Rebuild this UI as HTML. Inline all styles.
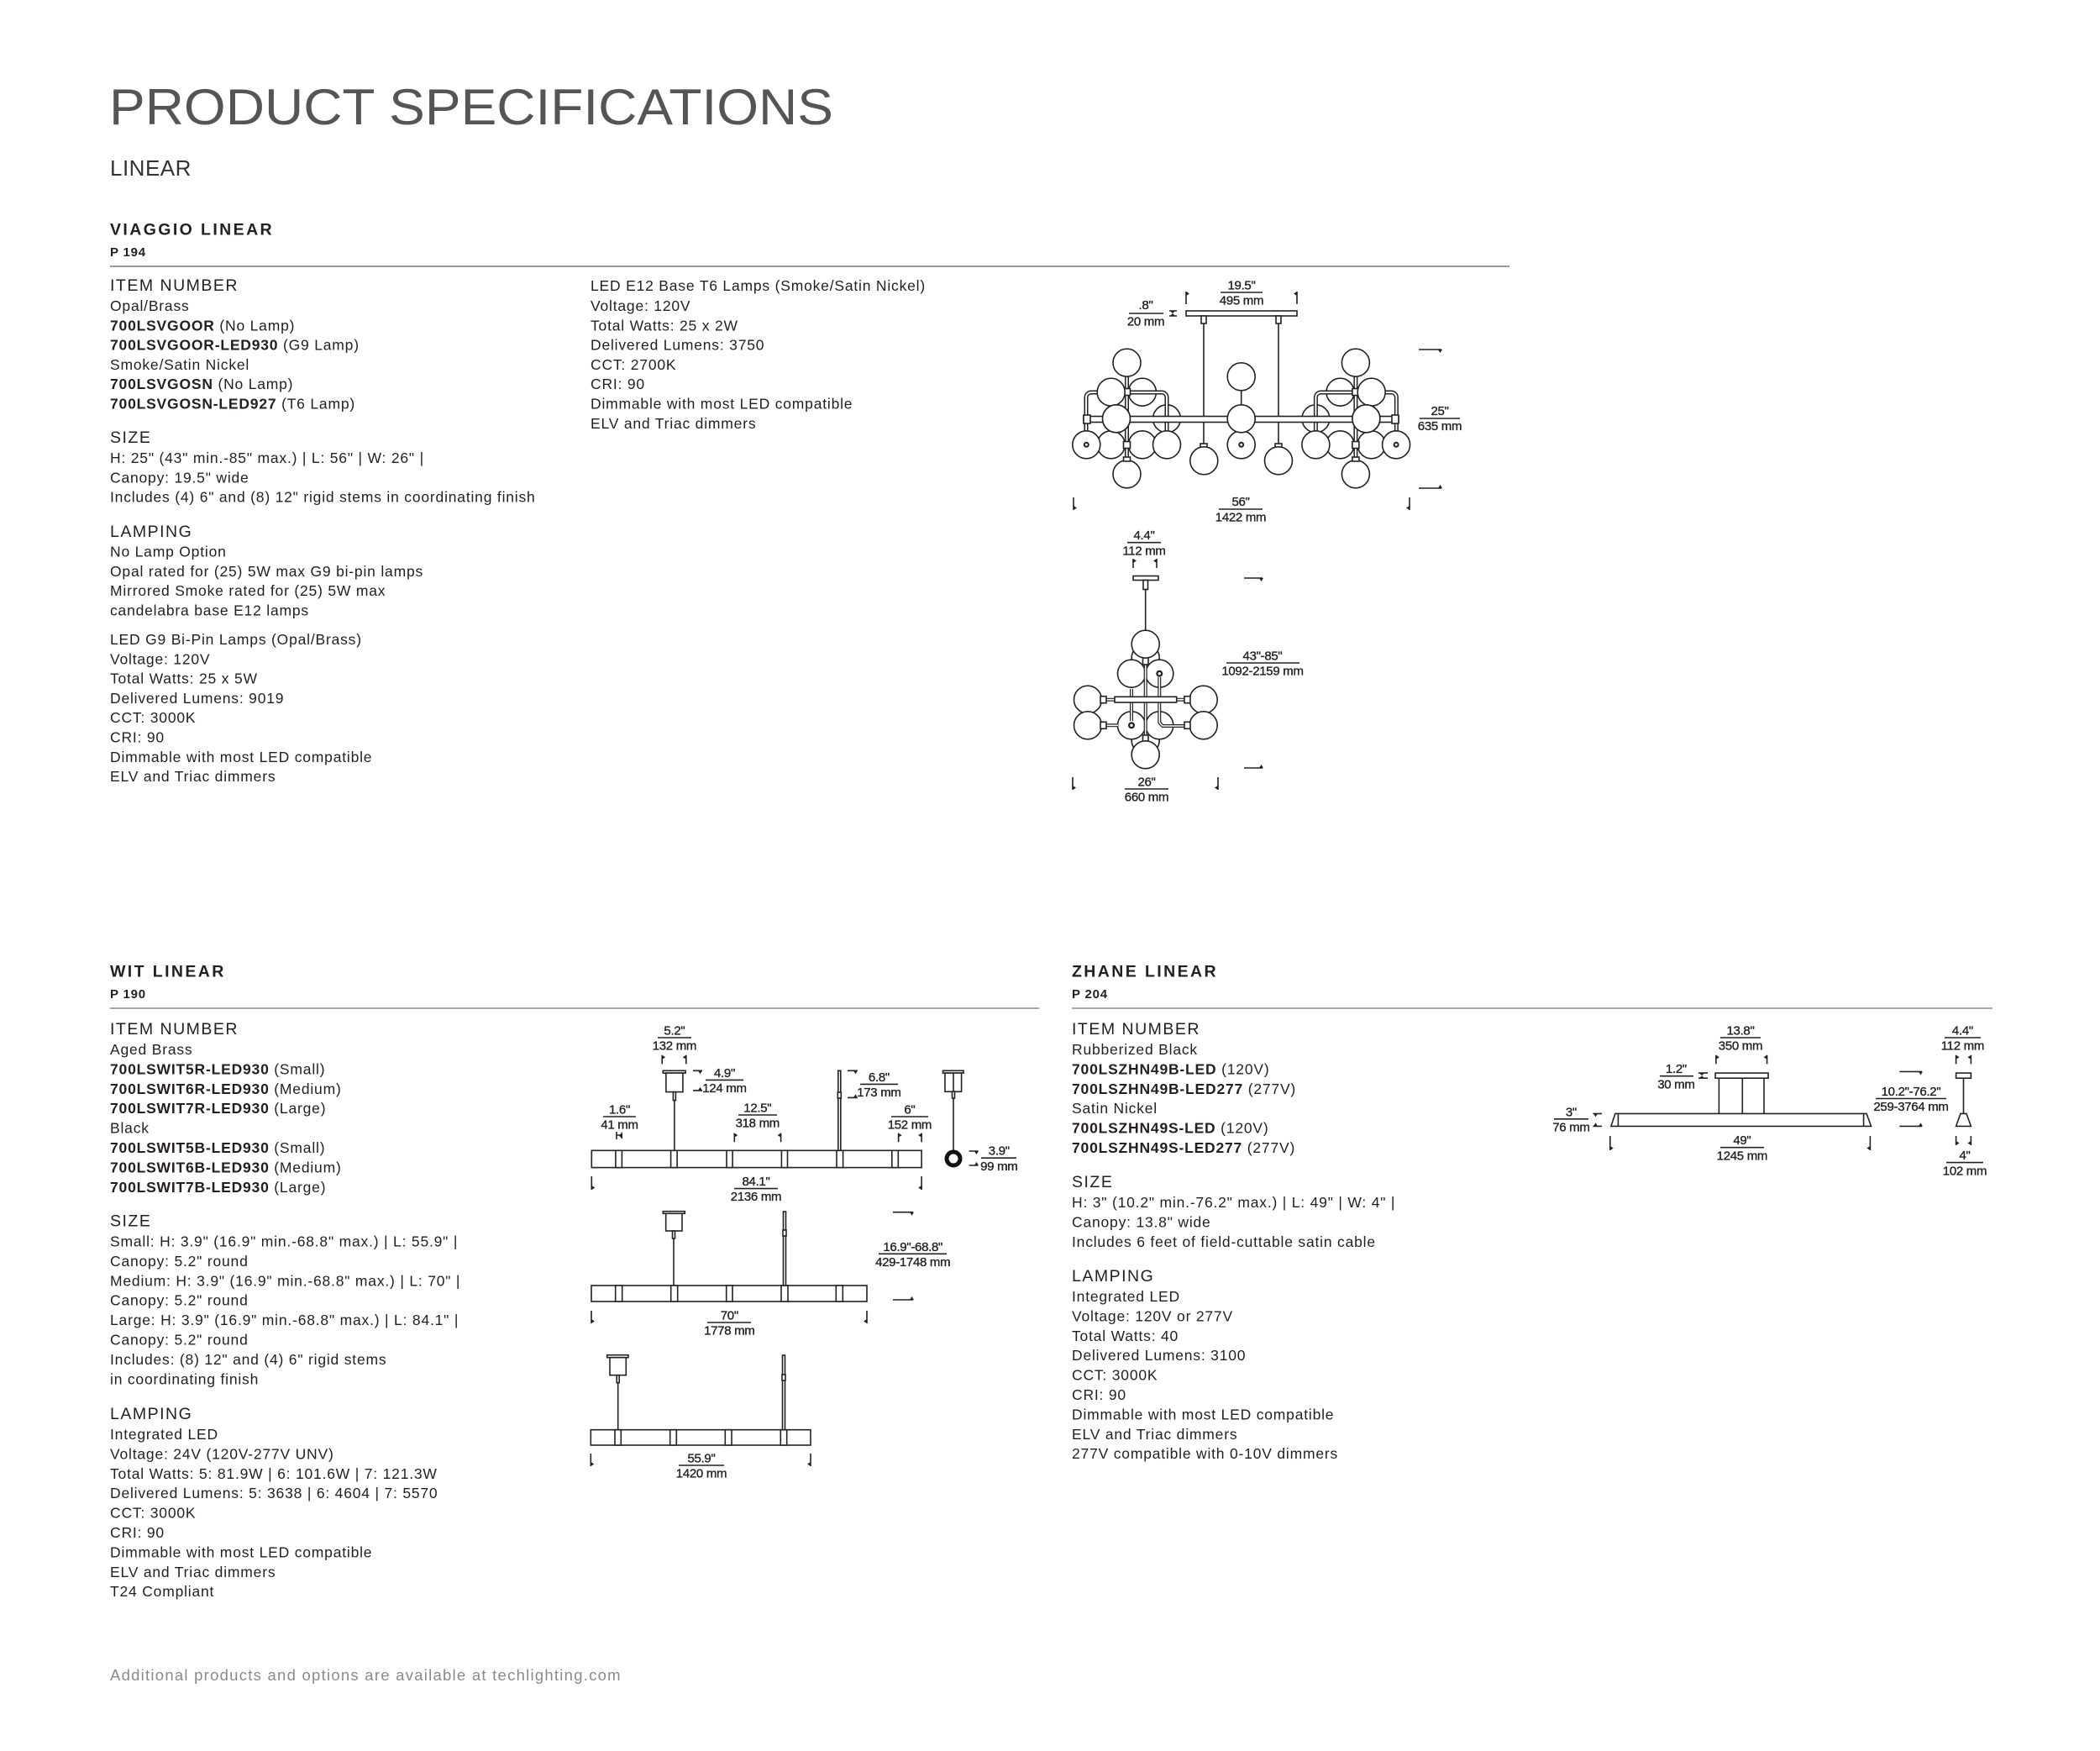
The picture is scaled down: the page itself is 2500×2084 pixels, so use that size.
<!DOCTYPE html>
<html><head><meta charset="utf-8"><style>
html,body{margin:0;padding:0;background:#fff}
svg{display:block}
.t{font-family:"Liberation Sans",sans-serif;fill:#231f20}
.b{font-size:17.5px;letter-spacing:0.8px}
.h{font-size:19.5px;letter-spacing:1.5px}
.hd{font-size:19.5px;font-weight:700;letter-spacing:2.4px}
.p{font-size:15px;font-weight:700;letter-spacing:0.8px}
.d{font-family:"Liberation Sans",sans-serif;font-size:15px;fill:#222;stroke:#222;stroke-width:0.35;text-anchor:middle;letter-spacing:-0.3px}
.s{stroke:#222;stroke-width:1.6;fill:none}
.w{stroke:#222;stroke-width:1.6;fill:#fff}
.f{fill:#222}
</style></head><body>
<svg width="2500" height="2084" viewBox="0 0 2500 2084" xmlns="http://www.w3.org/2000/svg">
<text class="t" x="130" y="148" font-size="60" textLength="862" lengthAdjust="spacingAndGlyphs" style="fill:#555">PRODUCT SPECIFICATIONS</text>
<text class="t" x="131" y="209" font-size="26" style="fill:#333;letter-spacing:0.5px">LINEAR</text>

<!-- VIAGGIO -->
<text class="t hd" x="131" y="279.5">VIAGGIO LINEAR</text>
<text class="t p" x="131" y="305">P 194</text>
<line x1="131" y1="317" x2="1797" y2="317" stroke="#777" stroke-width="1.6"/>
<g class="t b">
<text class="h" x="131" y="346">ITEM NUMBER</text>
<text x="131" y="370">Opal/Brass</text>
<text x="131" y="393.3"><tspan font-weight="700">700LSVGOOR</tspan> (No Lamp)</text>
<text x="131" y="416.6"><tspan font-weight="700">700LSVGOOR-LED930</tspan> (G9 Lamp)</text>
<text x="131" y="439.9">Smoke/Satin Nickel</text>
<text x="131" y="463.2"><tspan font-weight="700">700LSVGOSN</tspan> (No Lamp)</text>
<text x="131" y="486.5"><tspan font-weight="700">700LSVGOSN-LED927</tspan> (T6 Lamp)</text>
<text class="h" x="131" y="527">SIZE</text>
<text x="131" y="551">H: 25" (43" min.-85" max.) | L: 56" | W: 26" |</text>
<text x="131" y="574.3">Canopy: 19.5" wide</text>
<text x="131" y="597.6">Includes (4) 6" and (8) 12" rigid stems in coordinating finish</text>
<text class="h" x="131" y="639">LAMPING</text>
<text x="131" y="662.5">No Lamp Option</text>
<text x="131" y="685.8">Opal rated for (25) 5W max G9 bi-pin lamps</text>
<text x="131" y="709.1">Mirrored Smoke rated for (25) 5W max</text>
<text x="131" y="732.4">candelabra base E12 lamps</text>
<text x="131" y="767">LED G9 Bi-Pin Lamps (Opal/Brass)</text>
<text x="131" y="790.3">Voltage: 120V</text>
<text x="131" y="813.6">Total Watts: 25 x 5W</text>
<text x="131" y="836.9">Delivered Lumens: 9019</text>
<text x="131" y="860.2">CCT: 3000K</text>
<text x="131" y="883.5">CRI: 90</text>
<text x="131" y="906.8">Dimmable with most LED compatible</text>
<text x="131" y="930.1">ELV and Triac dimmers</text>
<text x="703" y="346">LED E12 Base T6 Lamps (Smoke/Satin Nickel)</text>
<text x="703" y="370">Voltage: 120V</text>
<text x="703" y="393.3">Total Watts: 25 x 2W</text>
<text x="703" y="416.6">Delivered Lumens: 3750</text>
<text x="703" y="439.9">CCT: 2700K</text>
<text x="703" y="463.2">CRI: 90</text>
<text x="703" y="486.5">Dimmable with most LED compatible</text>
<text x="703" y="509.8">ELV and Triac dimmers</text>
</g>

<!-- WIT -->
<text class="t hd" x="131" y="1162.5">WIT LINEAR</text>
<text class="t p" x="131" y="1188">P 190</text>
<line x1="131" y1="1200" x2="1237" y2="1200" stroke="#888" stroke-width="1.6"/>
<g class="t b">
<text class="h" x="131" y="1231">ITEM NUMBER</text>
<text x="131" y="1255">Aged Brass</text>
<text x="131" y="1278.4"><tspan font-weight="700">700LSWIT5R-LED930</tspan> (Small)</text>
<text x="131" y="1301.8"><tspan font-weight="700">700LSWIT6R-LED930</tspan> (Medium)</text>
<text x="131" y="1325.2"><tspan font-weight="700">700LSWIT7R-LED930</tspan> (Large)</text>
<text x="131" y="1348.6">Black</text>
<text x="131" y="1372"><tspan font-weight="700">700LSWIT5B-LED930</tspan> (Small)</text>
<text x="131" y="1395.4"><tspan font-weight="700">700LSWIT6B-LED930</tspan> (Medium)</text>
<text x="131" y="1418.8"><tspan font-weight="700">700LSWIT7B-LED930</tspan> (Large)</text>
<text class="h" x="131" y="1459.5">SIZE</text>
<text x="131" y="1483.5">Small: H: 3.9" (16.9" min.-68.8" max.) | L: 55.9" |</text>
<text x="131" y="1506.9">Canopy: 5.2" round</text>
<text x="131" y="1530.3">Medium: H: 3.9" (16.9" min.-68.8" max.) | L: 70" |</text>
<text x="131" y="1553.7">Canopy: 5.2" round</text>
<text x="131" y="1577.1">Large: H: 3.9" (16.9" min.-68.8" max.) | L: 84.1" |</text>
<text x="131" y="1600.5">Canopy: 5.2" round</text>
<text x="131" y="1623.9">Includes: (8) 12" and (4) 6" rigid stems</text>
<text x="131" y="1647.3">in coordinating finish</text>
<text class="h" x="131" y="1689">LAMPING</text>
<text x="131" y="1713">Integrated LED</text>
<text x="131" y="1736.4">Voltage: 24V (120V-277V UNV)</text>
<text x="131" y="1759.8">Total Watts: 5: 81.9W | 6: 101.6W | 7: 121.3W</text>
<text x="131" y="1783.2">Delivered Lumens: 5: 3638 | 6: 4604 | 7: 5570</text>
<text x="131" y="1806.6">CCT: 3000K</text>
<text x="131" y="1830">CRI: 90</text>
<text x="131" y="1853.4">Dimmable with most LED compatible</text>
<text x="131" y="1876.8">ELV and Triac dimmers</text>
<text x="131" y="1900.2">T24 Compliant</text>
</g>

<!-- ZHANE -->
<text class="t hd" x="1276" y="1162.5">ZHANE LINEAR</text>
<text class="t p" x="1276" y="1188">P 204</text>
<line x1="1276" y1="1200" x2="2372" y2="1200" stroke="#888" stroke-width="1.6"/>
<g class="t b">
<text class="h" x="1276" y="1231">ITEM NUMBER</text>
<text x="1276" y="1255">Rubberized Black</text>
<text x="1276" y="1278.4"><tspan font-weight="700">700LSZHN49B-LED</tspan> (120V)</text>
<text x="1276" y="1301.8"><tspan font-weight="700">700LSZHN49B-LED277</tspan> (277V)</text>
<text x="1276" y="1325.2">Satin Nickel</text>
<text x="1276" y="1348.6"><tspan font-weight="700">700LSZHN49S-LED</tspan> (120V)</text>
<text x="1276" y="1372"><tspan font-weight="700">700LSZHN49S-LED277</tspan> (277V)</text>
<text class="h" x="1276" y="1413">SIZE</text>
<text x="1276" y="1437">H: 3" (10.2" min.-76.2" max.) | L: 49" | W: 4" |</text>
<text x="1276" y="1460.4">Canopy: 13.8" wide</text>
<text x="1276" y="1483.8">Includes 6 feet of field-cuttable satin cable</text>
<text class="h" x="1276" y="1525">LAMPING</text>
<text x="1276" y="1549">Integrated LED</text>
<text x="1276" y="1572.4">Voltage: 120V or 277V</text>
<text x="1276" y="1595.8">Total Watts: 40</text>
<text x="1276" y="1619.2">Delivered Lumens: 3100</text>
<text x="1276" y="1642.6">CCT: 3000K</text>
<text x="1276" y="1666">CRI: 90</text>
<text x="1276" y="1689.4">Dimmable with most LED compatible</text>
<text x="1276" y="1712.8">ELV and Triac dimmers</text>
<text x="1276" y="1736.2">277V compatible with 0-10V dimmers</text>
</g>

<text class="t" x="131" y="2000" font-size="18.5" style="fill:#8a8a8a;letter-spacing:1.25px">Additional products and options are available at techlighting.com</text>

<!-- ===== VIAGGIO FRONT ===== -->
<defs>
<g id="cl">
  <circle class="w" cx="1359.9" cy="466.7" r="16.5"/>
  <circle class="w" cx="1389" cy="498.3" r="16.5"/>
  <rect x="1293" y="467" width="96" height="63" rx="6" fill="none" stroke="#222" stroke-width="5"/>
  <rect x="1293" y="467" width="96" height="63" rx="6" fill="none" stroke="#fff" stroke-width="2"/>
  <circle class="w" cx="1322.7" cy="529.3" r="16.5"/>
  <circle class="w" cx="1359.9" cy="529.3" r="16.5"/>
  <circle class="w" cx="1293.3" cy="529.3" r="16.5"/>
  <circle class="f" cx="1293.3" cy="529.3" r="3.5"/><circle cx="1293.3" cy="529.3" r="1.5" fill="#fff"/>
  <circle class="w" cx="1389" cy="529.3" r="16.5"/>
  <line x1="1341.5" y1="447" x2="1341.5" y2="548" stroke="#222" stroke-width="5"/>
  <line x1="1341.5" y1="447" x2="1341.5" y2="548" stroke="#fff" stroke-width="2"/>
  <rect class="w" x="1337.5" y="462.5" width="8" height="8"/>
  <rect class="w" x="1337.5" y="525.5" width="8" height="8"/>
  <circle class="w" cx="1341.5" cy="431.7" r="16.5"/>
  <circle class="w" cx="1322.7" cy="466.7" r="16.5"/>
  <circle class="w" cx="1329" cy="498.3" r="16.5"/>
  <circle class="w" cx="1341.5" cy="564.3" r="16.5"/>
  <rect class="w" x="1337.5" y="544" width="8" height="5"/>
</g>
</defs>
<rect class="w" x="1412" y="370" width="132" height="6"/>
<rect class="w" x="1430" y="376" width="6" height="9"/>
<rect class="w" x="1519" y="376" width="6" height="9"/>
<line class="s" x1="1433" y1="385" x2="1433" y2="530"/>
<line class="s" x1="1522" y1="385" x2="1522" y2="530"/>
<use href="#cl"/>
<use href="#cl" transform="translate(2955.4,0) scale(-1,1)"/>
<rect class="w" x="1290" y="495.5" width="375" height="7"/>
<rect class="w" x="1290" y="494" width="8" height="10"/>
<rect class="w" x="1657" y="494" width="8" height="10"/>
<circle class="w" cx="1329" cy="498.3" r="16.5"/>
<circle class="w" cx="1626.4" cy="498.3" r="16.5"/>
<line class="s" x1="1477.7" y1="462" x2="1477.7" y2="484"/>
<circle class="w" cx="1477.7" cy="448.3" r="16.5"/>
<circle class="w" cx="1477.7" cy="529.3" r="16.5"/>
<circle class="f" cx="1477.7" cy="529.3" r="3.5"/><circle cx="1477.7" cy="529.3" r="1.5" fill="#fff"/>
<circle class="w" cx="1477.7" cy="498.3" r="16.5"/>
<rect class="w" x="1429" y="528" width="8" height="5"/>
<rect class="w" x="1518" y="528" width="8" height="5"/>
<circle class="w" cx="1433.3" cy="548.3" r="16.5"/>
<circle class="w" cx="1522" cy="548.3" r="16.5"/>
<text class="d" x="1478" y="344.5">19.5"</text><line class="s" x1="1453" y1="348" x2="1503" y2="348" stroke-width="1"/><text class="d" x="1478" y="362.5">495 mm</text>
<path class="s" d="M1412 347V362M1544 347V362" stroke-width="1"/>
<path class="f" d="M1412 347l4 2.5l-4 2.5zM1544 347l-4 2.5l4 2.5z"/>
<text class="d" x="1364" y="368">.8"</text><line class="s" x1="1344" y1="373" x2="1385" y2="373" stroke-width="1"/><text class="d" x="1364" y="387.5">20 mm</text>
<path class="s" d="M1392 370H1401M1392 376H1401" stroke-width="1"/><path class="f" d="M1393 370l3 3l3-3zM1393 376l3-3l3 3z"/>
<path class="s" d="M1689 416H1716M1689 581H1716" stroke-width="1"/>
<path class="f" d="M1712 416l2.5 4l2.5-4zM1712 581l2.5-4l2.5 4z"/>
<text class="d" x="1714" y="494">25"</text><line class="s" x1="1690" y1="498" x2="1738" y2="498" stroke-width="1"/><text class="d" x="1714" y="512">635 mm</text>
<text class="d" x="1477" y="602">56"</text><line class="s" x1="1451" y1="606" x2="1503" y2="606" stroke-width="1"/><text class="d" x="1477" y="620.5">1422 mm</text>
<path class="s" d="M1278 592V607M1678 592V607" stroke-width="1"/>
<path class="f" d="M1278 602l4 2.5l-4 2.5zM1678 602l-4 2.5l4 2.5z"/>

<!-- ===== VIAGGIO SIDE ===== -->
<text class="d" x="1362" y="642">4.4"</text><line class="s" x1="1342" y1="645.7" x2="1382" y2="645.7" stroke-width="1"/><text class="d" x="1362" y="660.5">112 mm</text>
<path class="s" d="M1349 665V676M1377 665V676" stroke-width="1"/>
<path class="f" d="M1349 665l4 2.5l-4 2.5zM1377 665l-4 2.5l4 2.5z"/>
<rect class="w" x="1349" y="685.5" width="30" height="5"/>
<rect class="w" x="1361" y="690.5" width="5.5" height="11"/>
<line class="s" x1="1363.7" y1="701" x2="1363.7" y2="752"/>
<circle class="w" cx="1363.7" cy="783" r="16.5"/>
<circle class="w" cx="1363.7" cy="881" r="16.5"/>
<circle class="w" cx="1347" cy="801.7" r="16.5"/>
<circle class="w" cx="1380.3" cy="801.7" r="16.5"/>
<circle class="f" cx="1380.3" cy="801.7" r="4"/><circle cx="1380.3" cy="801.7" r="1.7" fill="#fff"/>
<circle class="w" cx="1295" cy="832.7" r="16.5"/>
<circle class="w" cx="1432.7" cy="832.7" r="16.5"/>
<circle class="w" cx="1295" cy="863.3" r="16.5"/>
<circle class="w" cx="1432.7" cy="863.3" r="16.5"/>
<circle class="w" cx="1347" cy="863.3" r="16.5"/>
<circle class="w" cx="1380.3" cy="863.3" r="16.5"/>
<circle class="f" cx="1347" cy="863.3" r="4"/><circle cx="1347" cy="863.3" r="1.7" fill="#fff"/>
<path d="M1363.7 770V882M1347 820V858M1380.3 806V860L1384 864H1416" fill="none" stroke="#222" stroke-width="4"/>
<path d="M1363.7 770V882M1347 820V858M1380.3 806V860L1384 864H1416" fill="none" stroke="#fff" stroke-width="1.6"/>
<path d="M1311 832.7H1416M1311 863.3H1331" fill="none" stroke="#222" stroke-width="4"/>
<path d="M1311 832.7H1416M1311 863.3H1331" fill="none" stroke="#fff" stroke-width="1.6"/>
<rect class="w" x="1310" y="828.7" width="7" height="8"/><rect class="w" x="1410" y="828.7" width="7" height="8"/>
<rect class="w" x="1310" y="859.3" width="7" height="8"/><rect class="w" x="1410" y="859.3" width="7" height="8"/>
<rect class="w" x="1327" y="829.3" width="73.7" height="6.7"/>
<rect class="w" x="1360.5" y="782" width="6.5" height="9"/><rect class="w" x="1360.5" y="875" width="6.5" height="9"/>
<circle class="w" cx="1363.7" cy="766.7" r="16.5"/>
<circle class="w" cx="1363.7" cy="898.3" r="16.5"/>
<path class="s" d="M1481 688H1503M1481 914H1503" stroke-width="1"/>
<path class="f" d="M1499 688l2.5 4l2.5-4zM1499 914l2.5-4l2.5 4z"/>
<text class="d" x="1503" y="785.5">43"-85"</text><line class="s" x1="1460" y1="789" x2="1547" y2="789" stroke-width="1"/><text class="d" x="1503" y="803.5">1092-2159 mm</text>
<text class="d" x="1365" y="935.5">26"</text><line class="s" x1="1339" y1="939" x2="1391" y2="939" stroke-width="1"/><text class="d" x="1365" y="953.5">660 mm</text>
<path class="s" d="M1277 925V940M1450 925V940" stroke-width="1"/>
<path class="f" d="M1277 935l4 2.5l-4 2.5zM1450 935l-4 2.5l4 2.5z"/>

<!-- ===== WIT 1 ===== -->
<rect class="w" x="704.3" y="1369.3" width="392.8" height="20.3"/>
<g class="w">
<rect x="732.9" y="1369.3" width="7.5" height="20.3"/><rect x="798.6" y="1369.3" width="7.5" height="20.3"/>
<rect x="865" y="1369.3" width="7.1" height="20.3"/><rect x="930.4" y="1369.3" width="7.1" height="20.3"/>
<rect x="996" y="1369.3" width="7.6" height="20.3"/><rect x="1061.8" y="1369.3" width="7.5" height="20.3"/>
</g>
<rect class="w" x="789.3" y="1274.3" width="26.8" height="2.8"/>
<rect class="w" x="792.9" y="1277.1" width="20" height="22.5"/>
<rect class="w" x="801.4" y="1299.6" width="3" height="10"/>
<line class="s" x1="802.9" y1="1309.6" x2="802.9" y2="1369.3"/>
<rect class="w" x="997.8" y="1274.3" width="3" height="95"/>
<rect class="w" x="997.3" y="1300" width="4" height="7"/>
<text class="d" x="802.9" y="1231.5">5.2"</text><line class="s" x1="783" y1="1235" x2="823" y2="1235" stroke-width="1"/><text class="d" x="802.9" y="1249.5">132 mm</text>
<path class="s" d="M788.2 1255.7V1266.4M816.8 1255.7V1266.4" stroke-width="1"/>
<path class="f" d="M788.2 1255.7l4 2.5l-4 2.5zM816.8 1255.7l-4 2.5l4 2.5z"/>
<text class="d" x="862.5" y="1282">4.9"</text><line class="s" x1="840" y1="1285.4" x2="885" y2="1285.4" stroke-width="1"/><text class="d" x="862.5" y="1300">124 mm</text>
<path class="s" d="M825 1274.3H836M825 1297.9H836" stroke-width="1"/>
<path class="f" d="M831 1274.3l2.5 4l2.5-4zM831 1297.9l2.5-4l2.5 4z"/>
<text class="d" x="1046.4" y="1287">6.8"</text><line class="s" x1="1024" y1="1290.4" x2="1069" y2="1290.4" stroke-width="1"/><text class="d" x="1046.4" y="1305">173 mm</text>
<path class="s" d="M1009 1274.3H1020.7M1009 1306.4H1020.7" stroke-width="1"/>
<path class="f" d="M1016 1274.3l2.5 4l2.5-4zM1016 1306.4l2.5-4l2.5 4z"/>
<text class="d" x="737.5" y="1325.5">1.6"</text><line class="s" x1="718" y1="1329" x2="757" y2="1329" stroke-width="1"/><text class="d" x="737.5" y="1343.5">41 mm</text>
<path class="s" d="M734 1347V1356M734 1351H741" stroke-width="1"/><path class="f" d="M741 1347v9l-4-4.5z"/>
<text class="d" x="901.8" y="1323.5">12.5"</text><line class="s" x1="879" y1="1327" x2="925" y2="1327" stroke-width="1"/><text class="d" x="901.8" y="1341.5">318 mm</text>
<path class="s" d="M874.3 1348.6V1359.3M929.6 1348.6V1359.3" stroke-width="1"/>
<path class="f" d="M874.3 1348.6l4 2.5l-4 2.5zM929.6 1348.6l-4 2.5l4 2.5z"/>
<text class="d" x="1082.9" y="1325.5">6"</text><line class="s" x1="1061" y1="1329" x2="1105" y2="1329" stroke-width="1"/><text class="d" x="1082.9" y="1343.5">152 mm</text>
<path class="s" d="M1069.6 1348.6V1359.3M1097.1 1348.6V1359.3" stroke-width="1"/>
<path class="f" d="M1069.6 1348.6l4 2.5l-4 2.5zM1097.1 1348.6l-4 2.5l4 2.5z"/>
<text class="d" x="900" y="1411">84.1"</text><line class="s" x1="874" y1="1414.6" x2="926" y2="1414.6" stroke-width="1"/><text class="d" x="900" y="1429">2136 mm</text>
<path class="s" d="M704.3 1400V1416M1097.1 1400V1416" stroke-width="1"/>
<path class="f" d="M704.3 1411l4 2.5l-4 2.5zM1097.1 1411l-4 2.5l4 2.5z"/>
<rect class="w" x="1122.5" y="1274.3" width="24.6" height="2.8"/>
<rect class="w" x="1125" y="1277.1" width="19.6" height="22.2"/>
<line class="s" x1="1135" y1="1277" x2="1135" y2="1369"/>
<rect class="w" x="1133.5" y="1299" width="3" height="8"/>
<circle cx="1135" cy="1379" r="8" fill="none" stroke="#111" stroke-width="5"/>
<text class="d" x="1189.3" y="1374.7">3.9"</text><line class="s" x1="1168" y1="1378.2" x2="1210" y2="1378.2" stroke-width="1"/><text class="d" x="1189.3" y="1393">99 mm</text>
<path class="s" d="M1153.6 1370H1164.3M1153.6 1387H1164.3" stroke-width="1"/>
<path class="f" d="M1160 1370l2.5 4l2.5-4zM1160 1387l2.5-4l2.5 4z"/>

<!-- ===== WIT 2 ===== -->
<rect class="w" x="704" y="1530" width="328" height="19"/>
<g class="w">
<rect x="732.7" y="1530" width="8" height="19"/><rect x="798.7" y="1530" width="8" height="19"/>
<rect x="864.7" y="1530" width="7.3" height="19"/><rect x="930" y="1530" width="8" height="19"/>
<rect x="995.3" y="1530" width="8" height="19"/>
</g>
<rect class="w" x="789.3" y="1441.7" width="26" height="2.6"/>
<rect class="w" x="792.7" y="1444.3" width="19.3" height="20.7"/>
<rect class="w" x="800.5" y="1465" width="3" height="9"/>
<line class="s" x1="802" y1="1474" x2="802" y2="1530"/>
<rect class="w" x="932.5" y="1442" width="3" height="88"/>
<rect class="w" x="932" y="1464" width="4" height="7"/>
<text class="d" x="868.3" y="1570.5">70"</text><line class="s" x1="842" y1="1574" x2="894" y2="1574" stroke-width="1"/><text class="d" x="868.3" y="1588.5">1778 mm</text>
<path class="s" d="M704 1560V1575M1032 1560V1575" stroke-width="1"/>
<path class="f" d="M704 1570l4 2.5l-4 2.5zM1032 1570l-4 2.5l4 2.5z"/>
<path class="s" d="M1063 1442.7H1087M1063 1547H1087" stroke-width="1"/>
<path class="f" d="M1083 1442.7l2.5 4l2.5-4zM1083 1547l2.5-4l2.5 4z"/>
<text class="d" x="1086.7" y="1488.8">16.9"-68.8"</text><line class="s" x1="1046" y1="1492.3" x2="1127" y2="1492.3" stroke-width="1"/><text class="d" x="1086.7" y="1507">429-1748 mm</text>

<!-- ===== WIT 3 ===== -->
<rect class="w" x="703.3" y="1701.7" width="261.7" height="18.3"/>
<g class="w">
<rect x="732" y="1701.7" width="7.3" height="18.3"/><rect x="797.7" y="1701.7" width="7.6" height="18.3"/>
<rect x="863.3" y="1701.7" width="7.7" height="18.3"/><rect x="929.3" y="1701.7" width="7.4" height="18.3"/>
</g>
<rect class="w" x="722.7" y="1612.7" width="25.3" height="3"/>
<rect class="w" x="726" y="1615.7" width="19.3" height="21"/>
<rect class="w" x="734.2" y="1636.7" width="3" height="9"/>
<line class="s" x1="735.7" y1="1645.7" x2="735.7" y2="1701.7"/>
<rect class="w" x="931.5" y="1613" width="3" height="88.7"/>
<rect class="w" x="931" y="1636" width="4" height="7"/>
<text class="d" x="835" y="1740.5">55.9"</text><line class="s" x1="808" y1="1744" x2="862" y2="1744" stroke-width="1"/><text class="d" x="835" y="1758.5">1420 mm</text>
<path class="s" d="M703.3 1730V1745M965 1730V1745" stroke-width="1"/>
<path class="f" d="M703.3 1740l4 2.5l-4 2.5zM965 1740l-4 2.5l4 2.5z"/>

<!-- ===== ZHANE ===== -->
<path class="w" d="M1922.9 1325.4H2222.1L2227.5 1340.4H1917.9Z"/>
<path class="s" d="M1926.4 1325.4V1340.4M2218.6 1325.4V1340.4"/>
<rect class="w" x="2042.1" y="1277.1" width="62.9" height="6.1"/>
<path class="s" d="M2046.4 1283.2V1325.4M2074.3 1283.2V1325.4M2100 1283.2V1325.4"/>
<text class="d" x="2072" y="1231.5">13.8"</text><line class="s" x1="2048" y1="1235" x2="2096" y2="1235" stroke-width="1"/><text class="d" x="2072" y="1249.5">350 mm</text>
<path class="s" d="M2042.9 1255.7V1266.4M2103.6 1255.7V1266.4" stroke-width="1"/>
<path class="f" d="M2042.9 1255.7l4 2.5l-4 2.5zM2103.6 1255.7l-4 2.5l4 2.5z"/>
<text class="d" x="1995.4" y="1277.2">1.2"</text><line class="s" x1="1976" y1="1280.7" x2="2016" y2="1280.7" stroke-width="1"/><text class="d" x="1995.4" y="1295.5">30 mm</text>
<path class="s" d="M2022 1277.1H2033M2022 1283.2H2033" stroke-width="1"/><path class="f" d="M2023 1277.1l3 3l3-3zM2023 1283.2l3-3l3 3z"/>
<text class="d" x="1870.4" y="1328.3">3"</text><line class="s" x1="1850" y1="1331.8" x2="1891" y2="1331.8" stroke-width="1"/><text class="d" x="1870.4" y="1346.5">76 mm</text>
<path class="s" d="M1896.4 1325.4H1907M1896.4 1340.4H1907" stroke-width="1"/>
<path class="f" d="M1897 1325.4l2.5 4l2.5-4zM1897 1340.4l2.5-4l2.5 4z"/>
<text class="d" x="2073.9" y="1362.2">49"</text><line class="s" x1="2048" y1="1365.7" x2="2100" y2="1365.7" stroke-width="1"/><text class="d" x="2073.9" y="1380.5">1245 mm</text>
<path class="s" d="M1916.8 1352V1369M2226.4 1352V1369" stroke-width="1"/>
<path class="f" d="M1916.8 1364l4 2.5l-4 2.5zM2226.4 1364l-4 2.5l4 2.5z"/>
<path class="s" d="M2261.4 1275.4H2288M2261.4 1340.4H2288" stroke-width="1"/>
<path class="f" d="M2284 1275.4l2.5 4l2.5-4zM2284 1340.4l2.5-4l2.5 4z"/>
<text class="d" x="2275" y="1304">10.2"-76.2"</text><line class="s" x1="2233" y1="1307.5" x2="2317" y2="1307.5" stroke-width="1"/><text class="d" x="2275" y="1322">259-3764 mm</text>
<rect class="w" x="2328.6" y="1277.1" width="17.8" height="6.1"/>
<line class="s" x1="2337.5" y1="1283.2" x2="2337.5" y2="1325.4"/>
<path class="w" d="M2334 1325.4H2341L2346.4 1340.4H2328.6Z"/>
<text class="d" x="2336.4" y="1231.5">4.4"</text><line class="s" x1="2315" y1="1235" x2="2358" y2="1235" stroke-width="1"/><text class="d" x="2336.4" y="1249.5">112 mm</text>
<path class="s" d="M2328.6 1255.7V1266.4M2346.4 1255.7V1266.4" stroke-width="1"/>
<path class="f" d="M2328.6 1255.7l4 2.5l-4 2.5zM2346.4 1255.7l-4 2.5l4 2.5z"/>
<text class="d" x="2339" y="1380">4"</text><line class="s" x1="2317" y1="1383.6" x2="2361" y2="1383.6" stroke-width="1"/><text class="d" x="2339" y="1398.5">102 mm</text>
<path class="s" d="M2328.6 1352V1363M2346.4 1352V1363" stroke-width="1"/>
<path class="f" d="M2328.6 1358l4 2.5l-4 2.5zM2346.4 1358l-4 2.5l4 2.5z"/>
</svg>
</body></html>
